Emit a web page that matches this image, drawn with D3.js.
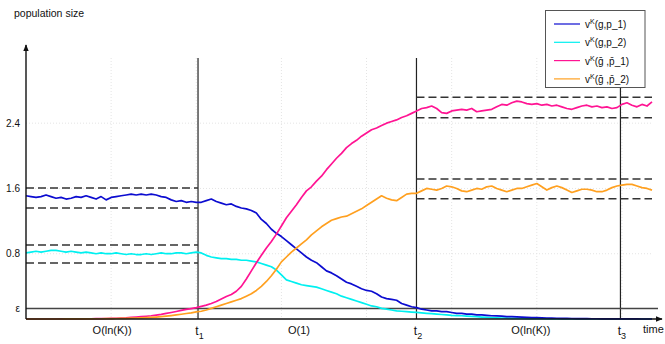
<!DOCTYPE html>
<html>
<head>
<meta charset="utf-8">
<script src="https://cdn.jsdelivr.net/npm/d3@7"></script>
<style>
  body { margin: 0; background: #fff; }
  text { font-family: "Liberation Sans", Arial, sans-serif; fill: #111; }
</style>
</head>
<body>
<div id="chart"></div>
<script>
// series sampled at equal time steps (index = time)
const seriesNames = ["v^K(g,p_1)", "v^K(g,p_2)", "v^K(g\u0304 ,p\u0304_1)", "v^K(g\u0304 ,p\u0304_2)"];
const seriesColors = ["#0c0cd0", "#00f0f0", "#ff1493", "#ffa020"];

const blueVals = [1.51,1.50,1.49,1.50,1.52,1.50,1.48,1.49,1.47,1.48,1.50,1.49,1.51,1.49,1.47,1.50,1.46,1.49,1.50,1.51,
  1.52,1.53,1.52,1.53,1.52,1.53,1.52,1.50,1.49,1.46,1.44,1.45,1.43,1.44,1.43,
  1.43,1.45,1.47,1.44,1.42,1.40,1.41,1.38,1.36,1.35,1.33,1.30,1.22,1.17,1.10,1.05,1.01,0.96,0.91,0.86,0.81,0.76,0.72,0.69,
  0.64,0.59,0.565,0.53,0.49,0.45,0.43,0.40,0.37,0.35,0.34,0.31,0.27,0.25,0.24,0.23,0.19,0.17,0.15,0.14,
  0.12,0.11,0.10,0.10,0.09,0.09,0.08,0.07,0.07,0.06,0.06,0.05,0.05,0.045,0.04,0.038,0.035,0.03,0.028,0.025,0.022,
  0.02,0.018,0.016,0.014,0.012,0.01,0.009,0.008,0.007,0.006,0.005,0.004,0.004,0.003,0.003,0.002,0.002,0.002,0.001,0.001,
  0.001,0.001,0.001,0,0,0];

const cyanVals = [0.81,0.82,0.83,0.82,0.83,0.84,0.84,0.83,0.82,0.83,0.82,0.81,0.82,0.81,0.80,0.81,0.80,0.80,0.81,0.80,
  0.79,0.80,0.79,0.79,0.80,0.79,0.80,0.81,0.80,0.80,0.81,0.81,0.80,0.81,0.82,
  0.81,0.78,0.76,0.75,0.74,0.74,0.73,0.73,0.72,0.72,0.71,0.70,0.68,0.66,0.64,0.60,0.54,0.48,0.46,0.44,0.42,
  0.41,0.40,0.39,0.37,0.35,0.33,0.31,0.28,0.26,0.24,0.22,0.20,0.18,0.16,0.15,0.13,0.12,0.11,0.10,0.095,0.09,0.085,0.08,
  0.075,0.07,0.065,0.06,0.055,0.05,0.045,0.042,0.04,0.036,0.032,0.028,0.024,0.02,0.017,0.015,0.012,0.01,0.008,0.007,
  0.006,0.005,0.004,0.003,0.003,0.002,0.002,0.002,0.001,0.001,0.001,0.001,0.001,0.001,0,0,0,0,0,0,
  0,0,0,0,0,0,0];

const magentaVals = [0,0,0,0,0,0,0,0.001,0.001,0.001,0.002,0.002,0.003,0.003,0.004,0.005,0.006,0.007,0.009,0.011,0.013,
  0.02,0.024,0.029,0.034,0.04,0.048,0.057,0.068,0.08,0.092,0.105,0.117,0.128,0.14,
  0.155,0.17,0.19,0.215,0.245,0.275,0.30,0.34,0.40,0.49,0.59,0.69,0.78,0.87,0.95,1.04,1.14,1.24,1.32,1.40,1.49,1.57,
  1.62,1.69,1.75,1.83,1.90,1.97,2.03,2.10,2.15,2.19,2.24,2.28,2.32,2.34,2.37,2.40,2.42,2.44,2.47,2.49,2.52,2.55,
  2.58,2.59,2.61,2.58,2.53,2.52,2.55,2.56,2.57,2.56,2.58,2.54,2.55,2.56,2.57,2.60,2.63,2.62,2.65,2.67,
  2.66,2.64,2.63,2.64,2.62,2.63,2.61,2.62,2.60,2.58,2.57,2.59,2.61,2.62,2.60,2.61,2.59,2.60,2.58,2.59,
  2.63,2.65,2.62,2.60,2.63,2.61,2.66];

const orangeVals = [0,0,0,0,0,0,0,0,0.001,0.001,0.001,0.001,0.002,0.002,0.003,0.003,0.004,0.005,0.006,0.007,0.008,
  0.01,0.012,0.014,0.017,0.02,0.024,0.029,0.035,0.042,0.05,0.058,0.067,0.076,0.088,
  0.095,0.11,0.13,0.15,0.17,0.19,0.21,0.23,0.25,0.28,0.31,0.35,0.40,0.46,0.53,0.61,0.70,0.76,0.82,0.87,0.92,0.97,
  1.03,1.08,1.13,1.17,1.21,1.23,1.25,1.26,1.29,1.32,1.35,1.39,1.43,1.47,1.51,1.48,1.46,1.45,1.49,1.53,1.54,1.54,
  1.57,1.60,1.59,1.58,1.60,1.63,1.62,1.60,1.57,1.56,1.58,1.60,1.59,1.62,1.63,1.60,1.58,1.56,1.58,1.60,
  1.60,1.62,1.64,1.66,1.62,1.58,1.61,1.63,1.61,1.58,1.55,1.57,1.59,1.59,1.58,1.56,1.56,1.58,1.61,1.63,
  1.64,1.65,1.65,1.63,1.61,1.60,1.58];

const allSeries = [blueVals, cyanVals, magentaVals, orangeVals];

// phase times and labels
const phaseTimes = [34.35, 77.97, 118.7];
const phaseTickNames = ["1", "2", "3"];
const phaseLabels = ["O(ln(K))", "O(1)", "O(ln(K))"];
const phaseLabelTimes = [17.2, 54.5, 100.8];

// y ticks
const eps = 0.13;
const yTickValues = [eps, 0.8, 1.6, 2.4];

// equilibrium bands (dashed), one per series
const bandUpper = [1.605, 0.907, 2.717, 1.716];
const bandLower = [1.36, 0.686, 2.467, 1.474];
const bandFrom = [0, 0, 77.97, 77.97];
const bandTo = [34.35, 34.35, 125, 125];

// faint grid
const gridTimes = [17, 34, 51, 68, 85, 102, 119];
const gridValues = [0.8, 1.6, 2.4];

const width = 665, height = 344;
const svg = d3.select("#chart").append("svg")
  .attr("width", width).attr("height", height);

const x = d3.scaleLinear().domain([0, 125]).range([26, 652]);
const y = d3.scaleLinear().domain([0, 3.3]).range([319, 319 - 3.3 * 81.6]);

const defs = svg.append("defs");
defs.append("marker").attr("id", "arrow")
  .attr("viewBox", "0 0 10 10").attr("refX", 9).attr("refY", 5)
  .attr("markerWidth", 7).attr("markerHeight", 7).attr("markerUnits", "userSpaceOnUse")
  .attr("orient", "auto")
  .append("path").attr("d", "M0,1 L10,5 L0,9 Z").attr("fill", "#111");

// grid
svg.append("g").selectAll("line").data(gridTimes).join("line")
  .attr("x1", d => x(d)).attr("x2", d => x(d))
  .attr("y1", 58).attr("y2", y(0))
  .attr("stroke", "#e4e4e4").attr("stroke-dasharray", "1,2");
svg.append("g").selectAll("line").data(gridValues).join("line")
  .attr("x1", x(0)).attr("x2", x(125))
  .attr("y1", d => y(d)).attr("y2", d => y(d))
  .attr("stroke", "#e4e4e4").attr("stroke-dasharray", "1,2");

// vertical phase lines
svg.append("g").selectAll("line").data(phaseTimes).join("line")
  .attr("x1", d => x(d)).attr("x2", d => x(d))
  .attr("y1", 58).attr("y2", y(0))
  .attr("stroke", "#222").attr("stroke-width", 1.2);

// epsilon line
svg.append("line")
  .attr("x1", x(0)).attr("x2", 658)
  .attr("y1", y(eps)).attr("y2", y(eps))
  .attr("stroke", "#444").attr("stroke-width", 1.5);

// dashed bands
const bands = [];
bandUpper.forEach((u, i) => {
  bands.push({ v: u, from: bandFrom[i], to: bandTo[i] });
  bands.push({ v: bandLower[i], from: bandFrom[i], to: bandTo[i] });
});
svg.append("g").selectAll("line").data(bands).join("line")
  .attr("x1", d => x(d.from)).attr("x2", d => x(d.to))
  .attr("y1", d => y(d.v)).attr("y2", d => y(d.v))
  .attr("stroke", "#333").attr("stroke-width", 1.4)
  .attr("stroke-dasharray", "8,4");

// series lines
const line = d3.line().x((d, i) => x(i)).y(d => y(d));
const drawOrder = [1, 0, 2, 3];
svg.append("g").selectAll("path").data(drawOrder).join("path")
  .attr("d", k => line(allSeries[k]))
  .attr("fill", "none")
  .attr("stroke", k => seriesColors[k])
  .attr("stroke-width", 1.7)
  .attr("stroke-linejoin", "round");

// axes lines with arrows
svg.append("line")
  .attr("x1", x(0)).attr("y1", y(0)).attr("x2", x(0)).attr("y2", 45)
  .attr("stroke", "#111").attr("stroke-width", 1.4).attr("marker-end", "url(#arrow)");
svg.append("line")
  .attr("x1", x(0)).attr("y1", y(0)).attr("x2", 662).attr("y2", y(0))
  .attr("stroke", "#111").attr("stroke-width", 1.4).attr("marker-end", "url(#arrow)");

// y axis labels
const yAxis = d3.axisLeft(y).tickValues(yTickValues).tickSize(0).tickPadding(6)
  .tickFormat(d => d === eps ? "\u03b5" : d.toFixed(1));
const gy = svg.append("g").attr("transform", `translate(${x(0)},0)`).call(yAxis);
gy.select(".domain").remove();
gy.selectAll("text").style("font-family", "'Liberation Sans', Arial, sans-serif")
  .style("font-size", "10px").attr("fill", "#111");

// x axis labels t1, t2, t3
const xAxis = d3.axisBottom(x).tickValues(phaseTimes).tickSize(0).tickPadding(0).tickFormat("");
const gx = svg.append("g").attr("transform", `translate(0,${y(0)})`).call(xAxis);
gx.select(".domain").remove();
gx.selectAll(".tick").append("text")
  .attr("y", 16).attr("x", 1).attr("text-anchor", "middle")
  .style("font-size", "12px").attr("fill", "#111")
  .each(function(d, i) {
    const t = d3.select(this);
    t.append("tspan").text("t");
    t.append("tspan").attr("dy", 4).style("font-size", "9px").text(phaseTickNames[i]);
  });

// phase duration labels
svg.append("g").selectAll("text").data(phaseLabels).join("text")
  .attr("x", (d, i) => x(phaseLabelTimes[i])).attr("y", 334)
  .attr("text-anchor", "middle").style("font-size", "11px")
  .text(d => d);

svg.append("text").attr("x", 643).attr("y", 333).style("font-size", "11px").text("time");
svg.append("text").attr("x", 14).attr("y", 17).style("font-size", "10.5px").text("population size");

// legend
const legend = svg.append("g");
legend.append("rect")
  .attr("x", 545.5).attr("y", 10.5).attr("width", 99.5).attr("height", 77)
  .attr("fill", "#fff").attr("stroke", "#555").attr("stroke-width", 1);
const rows = legend.selectAll("g").data(seriesNames).join("g")
  .attr("transform", (d, i) => `translate(0,${24 + i * 18.3})`);
rows.append("line").attr("x1", 554).attr("x2", 580)
  .attr("stroke", (d, i) => seriesColors[i]).attr("stroke-width", 1.2);
rows.append("text").attr("x", 585).attr("y", 4).style("font-size", "10px")
  .each(function(d) {
    const t = d3.select(this);
    const rest = d.replace("v^K", "");
    t.append("tspan").text("v");
    t.append("tspan").attr("dy", -4).style("font-size", "7px").text("K");
    t.append("tspan").attr("dy", 4).text(rest);
  });
</script>
</body>
</html>
